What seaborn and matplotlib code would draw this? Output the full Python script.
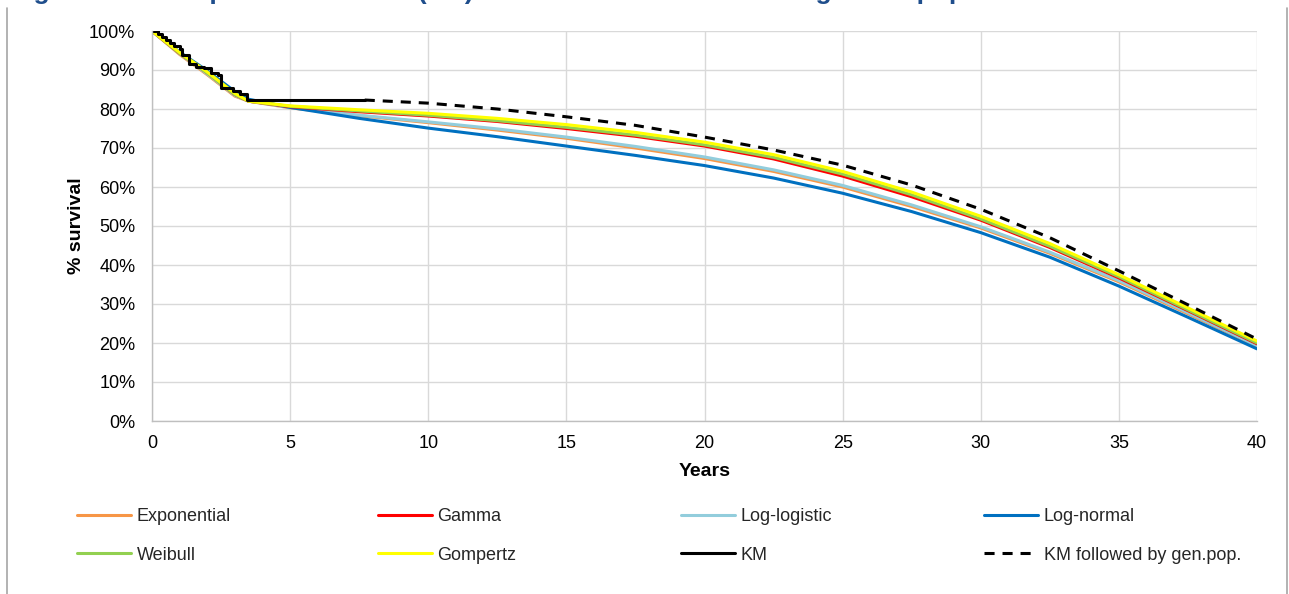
import numpy as np
import pandas as pd
import matplotlib.pyplot as plt
from matplotlib.lines import Line2D
import seaborn as sns

years = [0, 1, 2, 3, 3.5, 5, 7.5, 10, 12.5, 15, 17.5, 20, 22.5, 25, 27.5, 30, 32.5, 35, 37.5, 40]

exponential = [100, 94.0, 88.8, 83.3, 82.0, 80.3, 78.3, 76.5, 74.6, 72.5, 70.0, 67.3, 64.0, 60.0, 55.0, 49.5, 43.0, 35.7, 27.5, 19.2]
gamma = [100, 94.3, 89.3, 83.7, 82.0, 80.6, 79.3, 78.2, 76.8, 75.0, 73.0, 70.5, 67.2, 62.8, 57.5, 51.5, 44.5, 36.7, 28.3, 19.8]
loglogistic = [100, 94.2, 89.0, 83.5, 82.0, 80.4, 78.4, 76.7, 74.9, 72.8, 70.4, 67.7, 64.4, 60.4, 55.4, 49.8, 43.3, 36.0, 27.8, 19.3]
lognormal = [100, 94.6, 89.8, 84.5, 82.5, 80.4, 77.6, 75.1, 72.9, 70.5, 68.1, 65.5, 62.3, 58.4, 53.7, 48.3, 42.0, 34.6, 26.6, 18.5]
weibull = [100, 94.3, 89.2, 83.7, 82.0, 80.7, 79.5, 78.4, 77.0, 75.3, 73.3, 70.8, 67.6, 63.3, 58.0, 51.8, 44.8, 37.0, 28.5, 20.0]
gompertz = [100, 94.5, 89.5, 84.0, 82.0, 80.8, 79.8, 78.9, 77.6, 76.0, 74.0, 71.5, 68.3, 64.0, 58.7, 52.5, 45.5, 37.5, 29.0, 20.5]

# Kaplan-Meier steps
km_years = [0, 0.2, 0.35, 0.5, 0.65, 0.8, 1.0, 1.1, 1.35, 1.6, 1.9, 2.15, 2.4, 2.5, 2.75, 2.95, 3.2, 3.45, 7.7]
km_surv = [100, 99.3, 98.5, 97.8, 96.8, 96.2, 95.5, 93.8, 91.5, 90.8, 90.4, 89.3, 88.8, 85.5, 85.5, 84.6, 83.8, 82.3, 82.3]

# KM followed by general population mortality
genpop_years = [7.7, 10, 12.5, 15, 17.5, 20, 22.5, 25, 27.5, 30, 32.5, 35, 37.5, 40]
genpop_surv = [82.3, 81.5, 80.0, 78.0, 75.8, 72.8, 69.5, 65.6, 60.5, 54.3, 47.0, 38.5, 29.8, 21.0]

y_ticks = [0, 10, 20, 30, 40, 50, 60, 70, 80, 90, 100]
x_ticks = [0, 5, 10, 15, 20, 25, 30, 35, 40]

sns.set_theme(style='white')
plt.rcParams['font.family'] = ['Liberation Sans', 'DejaVu Sans']

fig = plt.figure(figsize=(12.89, 5.94), dpi=100)
ax = fig.add_axes([152 / 1289, 1 - 421 / 594, (1257 - 152) / 1289, (421 - 31) / 594])

fits = [
    ('Exponential', exponential, '#F79646'),
    ('Log-logistic', loglogistic, '#92CDDC'),
    ('Log-normal', lognormal, '#0070C0'),
    ('Gamma', gamma, '#FF0000'),
    ('Weibull', weibull, '#92D050'),
    ('Gompertz', gompertz, '#FFFF00'),
]
for name, vals, col in fits:
    sns.lineplot(x=years, y=vals, ax=ax, color=col, linewidth=2.2, label=name)

sns.lineplot(x=km_years, y=km_surv, ax=ax, color='black', linewidth=2.2,
             drawstyle='steps-post', label='KM')
sns.lineplot(x=genpop_years, y=genpop_surv, ax=ax, color='black', linewidth=2.2,
             linestyle=(0, (3.3, 2.6)), label='KM followed by gen.pop.')

ax.set_xlim(0, 40)
ax.set_ylim(0, 100)
ax.set_xticks(x_ticks)
ax.set_yticks(y_ticks)
ax.set_yticklabels([f'{v}%' for v in y_ticks])
ax.tick_params(axis='both', labelsize=13, colors='black', length=0)
ax.tick_params(axis='y', pad=12)
ax.tick_params(axis='x', pad=10)
ax.grid(True, color='#D9D9D9', linewidth=1)
for s in ['top', 'right']:
    ax.spines[s].set_visible(False)
for s in ['left', 'bottom']:
    ax.spines[s].set_color('#BFBFBF')
    ax.spines[s].set_linewidth(1)
ax.set_xlabel('Years', fontsize=14, fontweight='bold', color='black', labelpad=8)
ax.set_ylabel('% survival', fontsize=14, fontweight='bold', color='black', labelpad=3)

handles, labels = ax.get_legend_handles_labels()
ax.get_legend().remove()
lookup = dict(zip(labels, handles))
legend_cols = [
    ['Exponential', 'Weibull'],
    ['Gamma', 'Gompertz'],
    ['Log-logistic', 'KM'],
    ['Log-normal', 'KM followed by gen.pop.'],
]
col_x = [77, 378, 681, 984]
for cx, names in zip(col_x, legend_cols):
    fig.legend([lookup[n] for n in names], names, loc='upper left',
               bbox_to_anchor=(cx / 1289, 1 - 508 / 594), frameon=False,
               fontsize=13, handlelength=3.0, handletextpad=0.3, labelspacing=1.2,
               borderaxespad=0, borderpad=0)

# chart area border (cut off at the top)
fig.add_artist(Line2D([7 / 1289, 7 / 1289], [0, 1 - 8 / 594], transform=fig.transFigure,
                      color='#A6A6A6', linewidth=1.2))
fig.add_artist(Line2D([1287 / 1289, 1287 / 1289], [0, 1 - 8 / 594], transform=fig.transFigure,
                      color='#A6A6A6', linewidth=1.2))

# title, mostly cropped off the top of the image
fig.text(10 / 1289, 1 + 1.5 / 594,
         'Figure 12: Extrapolated survival (OS) curves versus KM and the general population',
         fontsize=19, fontweight='bold', color='#1F4E8C', va='baseline', ha='left')

fig.savefig('out.png', dpi=100)
